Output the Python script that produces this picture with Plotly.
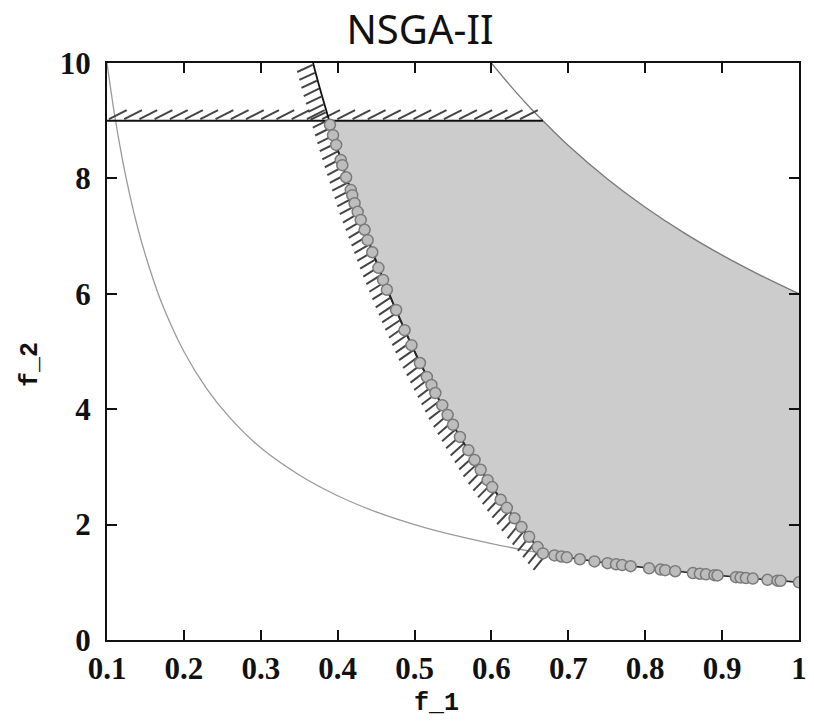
import numpy as np
import plotly.graph_objects as go

# ---------------- data ----------------
# Pareto-optimal solutions found by NSGA-II
front_f1 = [0.390, 0.394, 0.398, 0.404, 0.406, 0.411, 0.417, 0.419, 0.422, 0.426,
            0.430, 0.435, 0.439, 0.445, 0.453, 0.459, 0.464, 0.476, 0.487, 0.496,
            0.507, 0.516, 0.522, 0.527, 0.536, 0.543, 0.550, 0.559, 0.570, 0.578,
            0.586, 0.595, 0.601, 0.612, 0.620, 0.630, 0.639, 0.649, 0.660, 0.667,
            0.682, 0.691, 0.698, 0.715, 0.734, 0.751, 0.762, 0.770, 0.781, 0.805,
            0.820, 0.826, 0.839, 0.862, 0.871, 0.879, 0.890, 0.894, 0.918, 0.924,
            0.931, 0.940, 0.959, 0.972, 0.976, 1.000]
front_f2 = [8.93, 8.75, 8.58, 8.32, 8.23, 8.02, 7.80, 7.71, 7.57, 7.42,
            7.28, 7.11, 6.93, 6.72, 6.45, 6.24, 6.07, 5.72, 5.37, 5.11,
            4.80, 4.56, 4.42, 4.28, 4.07, 3.90, 3.73, 3.52, 3.29, 3.12,
            2.95, 2.77, 2.65, 2.43, 2.29, 2.11, 1.96, 1.79, 1.61, 1.50,
            1.466, 1.447, 1.433, 1.399, 1.362, 1.332, 1.312, 1.299, 1.280, 1.242,
            1.220, 1.211, 1.192, 1.160, 1.148, 1.138, 1.124, 1.119, 1.089, 1.082,
            1.074, 1.064, 1.043, 1.029, 1.025, 1.000]

# lower boundary of the objective space (thin gray curve)
lower_f1 = [0.1, 0.11, 0.12, 0.13, 0.14, 0.15, 0.17, 0.2, 0.23, 0.26, 0.3, 0.35,
            0.4, 0.45, 0.5, 0.55, 0.6, 0.667, 0.75, 0.85, 1.0]
lower_f2 = [10.0, 9.09, 8.33, 7.69, 7.14, 6.67, 5.88, 5.0, 4.35, 3.85, 3.33, 2.86,
            2.5, 2.22, 2.0, 1.82, 1.67, 1.5, 1.333, 1.176, 1.0]

# upper boundary (thin gray curve, top right)
upper_f1 = [0.6, 0.625, 0.65, 0.667, 0.7, 0.75, 0.8, 0.85, 0.9, 0.95, 1.0]
upper_f2 = [10.0, 9.6, 9.23, 9.0, 8.57, 8.0, 7.5, 7.06, 6.67, 6.32, 6.0]

# constraint boundary (black, hatched curve)
constr_f1 = [0.368, 0.376, 0.389, 0.4, 0.412, 0.424, 0.438, 0.452, 0.467, 0.483,
             0.5, 0.519, 0.538, 0.56, 0.583, 0.609, 0.636, 0.667]
constr_f2 = [10.0, 9.6, 9.0, 8.5, 8.0, 7.5, 7.0, 6.5, 6.0, 5.5,
             5.0, 4.5, 4.0, 3.5, 3.0, 2.5, 2.0, 1.5]

# horizontal constraint f_2 = 9
hline_f1 = [0.1, 0.667]
hline_f2 = [9.0, 9.0]

x_ticks = [0.1, 0.2, 0.3, 0.4, 0.5, 0.6, 0.7, 0.8, 0.9, 1.0]
x_tick_text = ["0.1", "0.2", "0.3", "0.4", "0.5", "0.6", "0.7", "0.8", "0.9", "1"]
y_ticks = [0, 2, 4, 6, 8, 10]
y_tick_text = ["0", "2", "4", "6", "8", "10"]

# ---------------- geometry ----------------
W, H = 814, 727
ML, MR, MT, MB = 107, 7, 63, 87
XR = (0.1, 1.0)
YR = (0.0, 10.0)
SX = (W - ML - MR) / (XR[1] - XR[0])   # px per unit
SY = (H - MT - MB) / (YR[1] - YR[0])


def to_px(x, y):
    return ML + (np.asarray(x) - XR[0]) * SX, (H - MB) - (np.asarray(y) - YR[0]) * SY


def to_data(px, py):
    return XR[0] + (px - ML) / SX, YR[0] + ((H - MB) - py) / SY


# feasible region polygon (gray), built from the boundary lists
c_f1 = np.array(constr_f1); c_f2 = np.array(constr_f2)
u_f1 = np.array(upper_f1); u_f2 = np.array(upper_f2)
l_f1 = np.array(lower_f1); l_f2 = np.array(lower_f2)
mc = c_f2 <= 9.0
mu = u_f2 <= 9.0
ml = l_f1 >= 0.667
poly_x = list(u_f1[mu]) + list(l_f1[ml][::-1]) + list(c_f1[mc][::-1])
poly_y = list(u_f2[mu]) + list(l_f2[ml][::-1]) + list(c_f2[mc][::-1])

fig = go.Figure()
fig.add_trace(go.Scatter(x=poly_x, y=poly_y, fill="toself", fillcolor="#cccccc",
                         mode="none", hoverinfo="skip", showlegend=False))

# thin gray boundaries
fig.add_trace(go.Scatter(x=lower_f1, y=lower_f2, mode="lines",
                         line=dict(color="#9a9a9a", width=1.3, shape="spline"),
                         hoverinfo="skip", showlegend=False))
fig.add_trace(go.Scatter(x=upper_f1, y=upper_f2, mode="lines",
                         line=dict(color="#7a7a7a", width=1.3, shape="spline"),
                         hoverinfo="skip", showlegend=False))

# hatching along the constraint curve (left side)
cpx, cpy = to_px(c_f1, c_f2)
seg = np.hypot(np.diff(cpx), np.diff(cpy))
s = np.concatenate([[0], np.cumsum(seg)])
hx, hy = [], []
for si in np.arange(2, s[-1] + 10, 8.2):
    if si <= s[-1]:
        px = np.interp(si, s, cpx); py = np.interp(si, s, cpy)
        k = max(min(np.searchsorted(s, si), len(s) - 1), 1)
    else:
        k = len(s) - 1
        tx0 = cpx[k] - cpx[k - 1]; ty0 = cpy[k] - cpy[k - 1]
        n0 = np.hypot(tx0, ty0)
        px = cpx[k] + tx0 / n0 * (si - s[-1]); py = cpy[k] + ty0 / n0 * (si - s[-1])
    tx = cpx[k] - cpx[k - 1]; ty = cpy[k] - cpy[k - 1]
    n = np.hypot(tx, ty); tx /= n; ty /= n
    vx, vy = -ty, tx
    ang = np.deg2rad(-8)
    rx = vx * np.cos(ang) - vy * np.sin(ang)
    ry = vx * np.sin(ang) + vy * np.cos(ang)
    L = 18
    x0, y0 = to_data(px - 1, py)
    x1, y1 = to_data(px + rx * L, py + ry * L)
    hx += [x0, x1, None]; hy += [y0, y1, None]
fig.add_trace(go.Scatter(x=hx, y=hy, mode="lines",
                         line=dict(color="#444444", width=2),
                         hoverinfo="skip", showlegend=False))

# hatching above the horizontal line f_2 = 9
hpx0, hpy = to_px(hline_f1[0], hline_f2[0])
hpx1, _ = to_px(hline_f1[1], hline_f2[1])
gx, gy = [], []
for px in np.arange(hpx0 + 2, hpx1 - 12, 15.4):
    x0, y0 = to_data(px, hpy - 1.5)
    x1, y1 = to_data(px + 18, hpy - 10.5)
    gx += [x0, x1, None]; gy += [y0, y1, None]
fig.add_trace(go.Scatter(x=gx, y=gy, mode="lines",
                         line=dict(color="#444444", width=2),
                         hoverinfo="skip", showlegend=False))

# constraint lines
fig.add_trace(go.Scatter(x=hline_f1, y=hline_f2, mode="lines",
                         line=dict(color="#111111", width=2),
                         hoverinfo="skip", showlegend=False))
fig.add_trace(go.Scatter(x=constr_f1, y=constr_f2, mode="lines",
                         line=dict(color="#111111", width=1.8, shape="spline"),
                         hoverinfo="skip", showlegend=False))

# NSGA-II solutions
fig.add_trace(go.Scatter(x=front_f1, y=front_f2, mode="lines+markers",
                         line=dict(color="#2a2a2a", width=1.5),
                         marker=dict(size=11, color="#bdbdbd",
                                     line=dict(color="#7a7a7a", width=1.5)),
                         showlegend=False))

tickfont = dict(family="Liberation Serif", size=31, color="#111111")
axis_common = dict(showgrid=False, zeroline=False, showline=True, linecolor="#111111",
                   linewidth=2, mirror="allticks", ticks="inside", ticklen=10,
                   tickwidth=1.5, tickcolor="#111111", tickfont=tickfont)

fig.update_layout(
    width=W, height=H,
    margin=dict(l=ML, r=MR, t=MT, b=MB, pad=0),
    paper_bgcolor="white", plot_bgcolor="white",
    title=dict(text="NSGA-II", x=420 / W, xanchor="center", y=1 - 30 / H,
               yanchor="middle", font=dict(family="Noto Sans", size=40, color="#111111")),
    xaxis=dict(range=list(XR), tickvals=x_ticks, ticktext=[f"<b>{t}</b>" for t in x_tick_text],
               ticklabelstandoff=0, **axis_common),
    yaxis=dict(range=list(YR), tickvals=y_ticks, ticktext=[f"<b>{t}</b>" for t in y_tick_text],
               ticklabelstandoff=8, **axis_common),
    annotations=[
        dict(text="<b>f_1</b>", xref="paper", yref="paper",
             x=0.5 - (ML + (W - ML - MR) / 2 - 440) / (W - ML - MR),
             y=-(703 - (H - MB)) / (H - MT - MB),
             xanchor="center", yanchor="middle", showarrow=False,
             font=dict(family="Liberation Mono", size=25, color="#111111")),
        dict(text="<b>f_2</b>", xref="paper", yref="paper",
             x=(29 - ML) / (W - ML - MR), y=1 - (364 - MT) / (H - MT - MB),
             xanchor="center", yanchor="middle", showarrow=False, textangle=-90,
             font=dict(family="Liberation Mono", size=25, color="#111111")),
    ],
)

fig.write_html("out.html")
